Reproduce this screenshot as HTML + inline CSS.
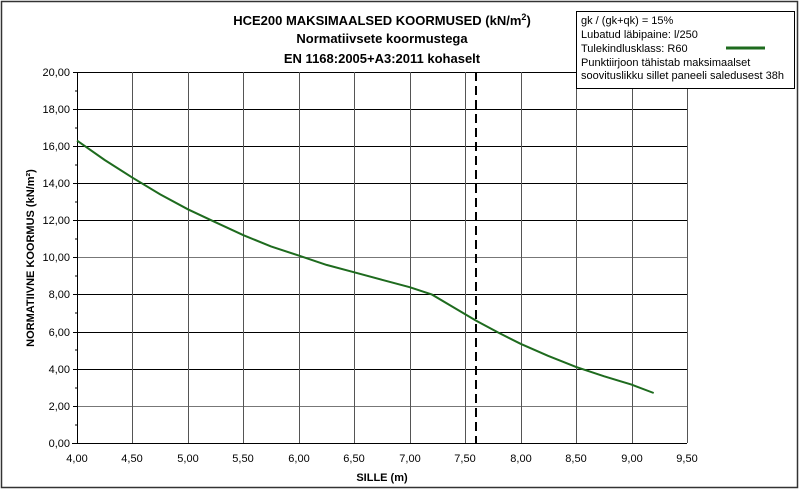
<!DOCTYPE html>
<html><head><meta charset="utf-8"><style>
html,body{margin:0;padding:0;background:#fff;}
svg{display:block;font-family:"Liberation Sans",Arial,sans-serif;}
</style></head><body>
<svg width="800" height="490" viewBox="0 0 800 490" xmlns="http://www.w3.org/2000/svg">
<rect x="1.5" y="1.5" width="796" height="486" fill="#fff" stroke="#333" stroke-width="1.5"/>
<g stroke="#000" stroke-width="1">
<line x1="77" y1="72.5" x2="687" y2="72.5"/>
<line x1="77" y1="109.5" x2="687" y2="109.5"/>
<line x1="77" y1="146.5" x2="687" y2="146.5"/>
<line x1="77" y1="183.5" x2="687" y2="183.5"/>
<line x1="77" y1="220.5" x2="687" y2="220.5"/>
<line x1="77" y1="257.5" x2="687" y2="257.5" stroke="#777"/>
<line x1="77" y1="294.5" x2="687" y2="294.5"/>
<line x1="77" y1="332.5" x2="687" y2="332.5"/>
<line x1="77" y1="369.5" x2="687" y2="369.5"/>
<line x1="77" y1="406.5" x2="687" y2="406.5" stroke="#777"/>
<line x1="132.5" y1="72" x2="132.5" y2="443" stroke="#555"/>
<line x1="188.5" y1="72" x2="188.5" y2="443" stroke="#555"/>
<line x1="243.5" y1="72" x2="243.5" y2="443" stroke="#555"/>
<line x1="299.5" y1="72" x2="299.5" y2="443" stroke="#555"/>
<line x1="354.5" y1="72" x2="354.5" y2="443" stroke="#555"/>
<line x1="410.5" y1="72" x2="410.5" y2="443" stroke="#555"/>
<line x1="465.5" y1="72" x2="465.5" y2="443" stroke="#555"/>
<line x1="521.5" y1="72" x2="521.5" y2="443" stroke="#555"/>
<line x1="576.5" y1="72" x2="576.5" y2="443" stroke="#555"/>
<line x1="632.5" y1="72" x2="632.5" y2="443" stroke="#555"/>
<line x1="687.5" y1="72" x2="687.5" y2="443" stroke="#555"/>
<line x1="77.5" y1="72" x2="77.5" y2="444"/>
<line x1="72" y1="443.5" x2="687" y2="443.5"/>
<line x1="73" y1="72.5" x2="77" y2="72.5"/><line x1="73" y1="109.5" x2="77" y2="109.5"/><line x1="73" y1="146.5" x2="77" y2="146.5"/><line x1="73" y1="183.5" x2="77" y2="183.5"/><line x1="73" y1="220.5" x2="77" y2="220.5"/><line x1="73" y1="257.5" x2="77" y2="257.5"/><line x1="73" y1="294.5" x2="77" y2="294.5"/><line x1="73" y1="332.5" x2="77" y2="332.5"/><line x1="73" y1="369.5" x2="77" y2="369.5"/><line x1="73" y1="406.5" x2="77" y2="406.5"/>
<line x1="75" y1="91" x2="77" y2="91"/><line x1="75" y1="128" x2="77" y2="128"/><line x1="75" y1="165" x2="77" y2="165"/><line x1="75" y1="202" x2="77" y2="202"/><line x1="75" y1="239" x2="77" y2="239"/><line x1="75" y1="276" x2="77" y2="276"/><line x1="75" y1="313" x2="77" y2="313"/><line x1="75" y1="350" x2="77" y2="350"/><line x1="75" y1="388" x2="77" y2="388"/><line x1="75" y1="425" x2="77" y2="425"/>
</g>
<line x1="476" y1="72" x2="476" y2="443" stroke="#000" stroke-width="2" stroke-dasharray="9,5"/>
<polyline fill="none" stroke="#1e6b1e" stroke-width="2"
points="77,140.6 104.7,160 132.5,177.7 160.2,194.4 187.9,209.3 215.6,222.3 243.4,235.2 271,246.4 298.8,255.6 326.5,264.9 354.3,272.3 382,279.8 409.7,287.2 432,294.6 454,307.6 476,320.6 498.4,332.6 520.6,343.8 548,355.8 576,366.9 603.8,376.2 631.5,384.6 653.7,393"/>
<g font-size="11" fill="#000" text-anchor="end">
<text x="70" y="76">20,00</text><text x="70" y="113">18,00</text><text x="70" y="150">16,00</text><text x="70" y="187">14,00</text><text x="70" y="224">12,00</text><text x="70" y="261">10,00</text><text x="70" y="298">8,00</text><text x="70" y="336">6,00</text><text x="70" y="373">4,00</text><text x="70" y="410">2,00</text><text x="70" y="447">0,00</text>
</g>
<g font-size="11" fill="#000" text-anchor="middle">
<text x="77" y="462">4,00</text><text x="132" y="462">4,50</text><text x="188" y="462">5,00</text><text x="243" y="462">5,50</text><text x="299" y="462">6,00</text><text x="354" y="462">6,50</text><text x="410" y="462">7,00</text><text x="465" y="462">7,50</text><text x="521" y="462">8,00</text><text x="576" y="462">8,50</text><text x="632" y="462">9,00</text><text x="687" y="462">9,50</text>
<text x="382" y="481" font-weight="bold">SILLE (m)</text>
<text x="382" y="25" font-size="13" font-weight="bold">HCE200 MAKSIMAALSED KOORMUSED (kN/m<tspan font-size="9" dy="-5">2</tspan><tspan dy="5">)</tspan></text>
<text x="382" y="43" font-size="13" font-weight="bold">Normatiivsete koormustega</text>
<text x="382" y="63" font-size="13" font-weight="bold">EN 1168:2005+A3:2011 kohaselt</text>
</g>
<text transform="translate(34,258) rotate(-90)" font-size="11" font-weight="bold" text-anchor="middle">NORMATIIVNE KOORMUS (kN/m²)</text>
<rect x="576.5" y="11.5" width="218" height="77" fill="#fff" stroke="#000"/>
<g font-size="11" fill="#000">
<text x="581" y="24">gk / (gk+qk) = 15%</text>
<text x="581" y="38">Lubatud läbipaine: l/250</text>
<text x="581" y="52">Tulekindlusklass: R60</text>
<text x="581" y="66">Punktiirjoon tähistab maksimaalset</text>
<text x="581" y="79">soovituslikku sillet paneeli saledusest 38h</text>
</g>
<line x1="726" y1="48" x2="765" y2="48" stroke="#1e6b1e" stroke-width="3"/>
</svg>
</body></html>
